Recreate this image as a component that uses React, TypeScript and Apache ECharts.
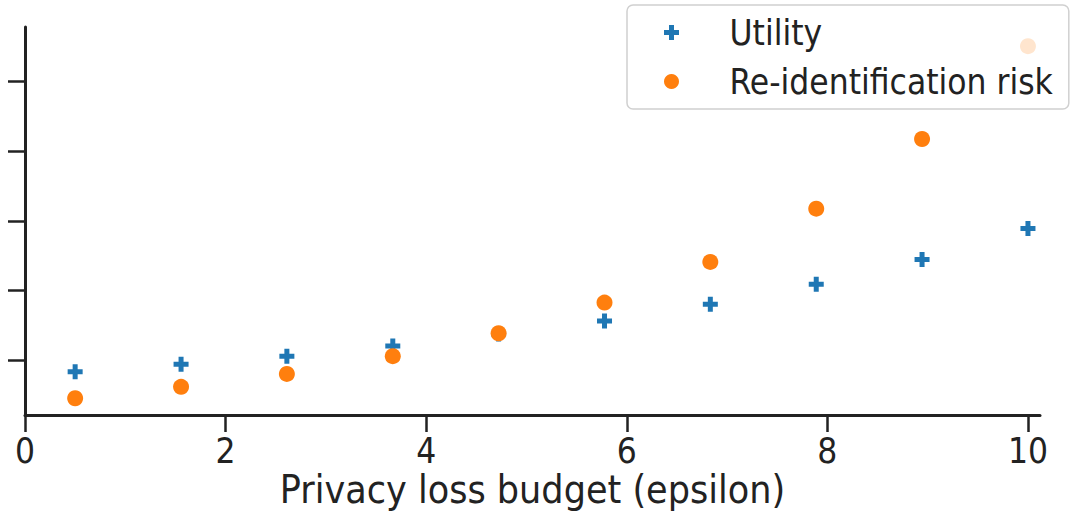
import React, { useEffect, useRef } from "react";
import * as echarts from "echarts";

const epsilon = [0.5, 1.556, 2.611, 3.667, 4.722, 5.778, 6.833, 7.889, 8.944, 10];
const utility = [0.166, 0.188, 0.211, 0.24, 0.275, 0.312, 0.36, 0.418, 0.489, 0.578];
const risk = [0.09, 0.123, 0.16, 0.211, 0.277, 0.365, 0.482, 0.635, 0.835, 1.102];
const xTicks = [0, 2, 4, 6, 8, 10];
const yTicks = [0.2, 0.4, 0.6, 0.8, 1.0];

const FONT = "'DejaVu Sans Condensed', 'DejaVu Sans', sans-serif";
const INK = "#222222";
const PLUS = "path://M10,0 H20 V10 H30 V20 H20 V30 H10 V20 H0 V10 H10 Z";

export default function App() {
  const ref = useRef<HTMLDivElement>(null);
  useEffect(() => {
    if (!ref.current) return;
    const chart = echarts.init(ref.current, undefined, { renderer: "svg" });
    chart.setOption({
      animation: false,
      textStyle: { fontFamily: FONT },
      grid: { left: 25, right: 30, top: 27, bottom: 97, containLabel: false, outerBoundsMode: "none" },
      legend: {
        orient: "vertical",
        left: 627,
        top: 5,
        padding: [10, 16, 10, 37],
        itemWidth: 70,
        itemHeight: 15,
        itemGap: 14,
        backgroundColor: "rgba(255,255,255,0.8)",
        borderColor: "#d0d0d0",
        borderWidth: 1.5,
        borderRadius: 6,
        textStyle: { fontSize: 35, color: INK, fontFamily: FONT, padding: [0, 0, 0, 18] },
        data: ["Utility", "Re-identification risk"],
      },
      xAxis: {
        type: "value",
        min: 0,
        max: 10.12,
        interval: 2,
        name: "Privacy loss budget (epsilon)",
        nameLocation: "middle",
        nameGap: 55,
        nameMoveOverlap: false,
        nameTextStyle: { fontSize: 39, color: INK, fontFamily: FONT },
        axisLine: { show: true, onZero: false, lineStyle: { color: INK, width: 3 } },
        axisTick: { show: true, length: 17, lineStyle: { color: INK, width: 2.5 }, customValues: xTicks },
        axisLabel: { fontSize: 35, color: INK, margin: 18, customValues: xTicks, fontFamily: FONT },
        splitLine: { show: false },
      },
      yAxis: {
        type: "value",
        min: 0.042,
        max: 1.157,
        axisLine: { show: true, onZero: false, lineStyle: { color: INK, width: 3 } },
        axisTick: { show: true, length: 17, lineStyle: { color: INK, width: 2.5 }, customValues: yTicks },
        axisLabel: { show: false },
        splitLine: { show: false },
      },
      series: [
        {
          name: "Utility",
          type: "scatter",
          symbol: PLUS,
          symbolSize: 15,
          itemStyle: { color: "#1f77b4", opacity: 1 },
          data: epsilon.map((x, i) => [x, utility[i]]),
        },
        {
          name: "Re-identification risk",
          type: "scatter",
          symbol: "circle",
          symbolSize: 16,
          itemStyle: { color: "#ff7f0e", opacity: 1 },
          data: epsilon.map((x, i) => [x, risk[i]]),
        },
      ],
    });
    return () => chart.dispose();
  }, []);
  return <div ref={ref} style={{ position: "absolute", left: 0, top: 0, width: 1070, height: 512 }} />;
}
